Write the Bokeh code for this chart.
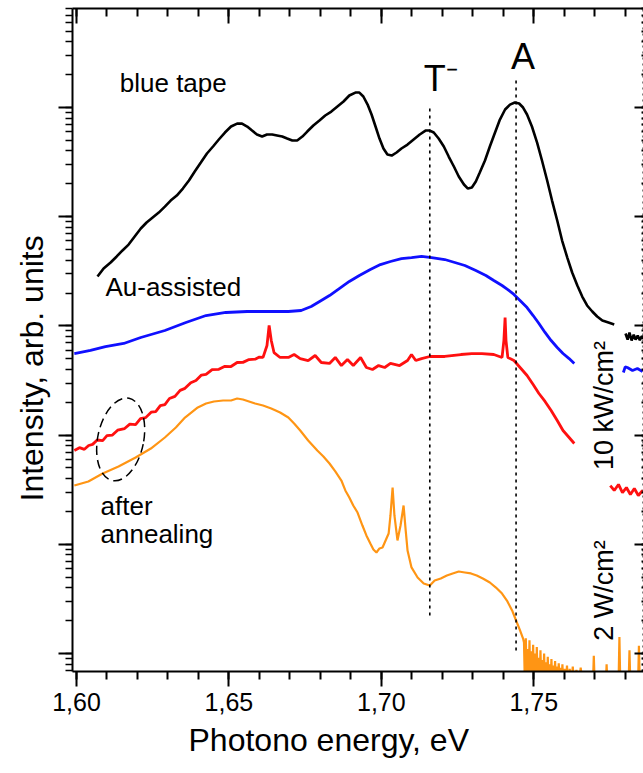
import math
from bokeh.plotting import figure
from bokeh.models import (Range1d, LinearAxis, LogAxis, FixedTicker, LogTicker,
                          Label, Title, CustomJSTickFormatter)
from bokeh.embed import file_html
from bokeh.resources import INLINE

FONT = "Liberation Sans"

# ---------------- data (photon energy in eV, log10 of intensity in arb. units) -------------
x_ticks = [1.60, 1.65, 1.70, 1.75]
x_tick_labels = ["1,60", "1,65", "1,70", "1,75"]
x_minor_ticks = [1.60, 1.61, 1.62, 1.63, 1.64, 1.65, 1.66, 1.67, 1.68, 1.69,
                 1.70, 1.71, 1.72, 1.73, 1.74, 1.75, 1.76, 1.77, 1.78]
x_title = "Photono energy, eV"
y_title = "Intensity, arb. units"

# blue tape (black curve)
blue_tape = [(1.6069,3.452),(1.6089,3.526),(1.6112,3.581),(1.6132,3.636),(1.6151,3.691),
    (1.6171,3.745),(1.6191,3.819),(1.6211,3.892),(1.6230,3.947),(1.6250,3.993),(1.6270,4.038),
    (1.6290,4.093),(1.6309,4.148),(1.6329,4.194),(1.6349,4.258),(1.6369,4.332),(1.6388,4.414),
    (1.6408,4.496),(1.6428,4.579),(1.6448,4.643),(1.6467,4.707),(1.6487,4.771),(1.6507,4.826),
    (1.6527,4.853),(1.6543,4.853),(1.6560,4.826),(1.6576,4.789),(1.6592,4.753),(1.6609,4.734),
    (1.6625,4.753),(1.6642,4.753),(1.6658,4.744),(1.6675,4.734),(1.6691,4.716),(1.6708,4.698),
    (1.6724,4.698),(1.6741,4.734),(1.6757,4.780),(1.6777,4.835),(1.6797,4.881),(1.6816,4.927),
    (1.6836,4.963),(1.6856,5.009),(1.6876,5.055),(1.6895,5.110),(1.6915,5.137),(1.6928,5.137),
    (1.6941,5.101),(1.6955,5.027),(1.6968,4.936),(1.6981,4.826),(1.6994,4.716),(1.7007,4.625),
    (1.7020,4.570),(1.7034,4.560),(1.7050,4.588),(1.7066,4.625),(1.7086,4.661),(1.7106,4.707),
    (1.7126,4.753),(1.7145,4.789),(1.7159,4.789),(1.7172,4.771),(1.7188,4.716),(1.7205,4.643),
    (1.7221,4.551),(1.7238,4.460),(1.7254,4.368),(1.7271,4.295),(1.7284,4.258),(1.7297,4.267),
    (1.7310,4.322),(1.7323,4.405),(1.7340,4.515),(1.7356,4.643),(1.7373,4.771),(1.7389,4.890),
    (1.7406,4.982),(1.7422,5.027),(1.7438,5.046),(1.7452,5.037),(1.7465,5.000),(1.7478,4.936),
    (1.7494,4.826),(1.7511,4.679),(1.7527,4.515),(1.7544,4.332),(1.7560,4.148),(1.7577,3.965),
    (1.7593,3.782),(1.7610,3.626),(1.7626,3.489),(1.7643,3.370),(1.7659,3.269),(1.7675,3.187),
    (1.7692,3.132),(1.7708,3.086),(1.7725,3.049),(1.7745,3.031),(1.7764,3.013)]
blue_tape_right = [(1.7801,2.930),(1.7808,2.875),(1.7814,2.940),(1.7821,2.866),(1.7828,2.920),
    (1.7834,2.875),(1.7841,2.912),(1.7848,2.870),(1.7854,2.905),(1.7861,2.885)]

# Au-assisted (blue curve)
au_assisted = [(1.5993,2.747),(1.6046,2.775),(1.6095,2.811),(1.6155,2.839),(1.6211,2.894),
    (1.6290,2.958),(1.6359,3.031),(1.6425,3.095),(1.6490,3.123),(1.6560,3.132),(1.6629,3.132),
    (1.6695,3.132),(1.6737,3.141),(1.6770,3.178),(1.6803,3.233),(1.6830,3.278),(1.6862,3.342),
    (1.6895,3.407),(1.6928,3.462),(1.6964,3.516),(1.6997,3.562),(1.7030,3.590),(1.7066,3.617),
    (1.7099,3.626),(1.7132,3.636),(1.7165,3.626),(1.7208,3.608),(1.7241,3.581),(1.7274,3.553),
    (1.7310,3.507),(1.7343,3.462),(1.7369,3.416),(1.7396,3.370),(1.7415,3.333),(1.7435,3.288),
    (1.7455,3.233),(1.7478,3.168),(1.7498,3.095),(1.7517,3.022),(1.7537,2.940),(1.7557,2.866),
    (1.7577,2.802),(1.7596,2.747),(1.7616,2.701),(1.7633,2.656)]
au_assisted_right = [(1.7794,2.573),(1.7800,2.625),(1.7807,2.619),(1.7824,2.592),
    (1.7840,2.610),(1.7857,2.582)]

# red curve
red_curve = [(1.5993,1.859),(1.6010,1.885),(1.6026,1.870),(1.6040,1.905),(1.6053,1.915),
    (1.6068,1.955),(1.6086,1.950),(1.6100,1.995),(1.6118,2.000),(1.6135,2.045),(1.6158,2.060),
    (1.6175,2.100),(1.6194,2.096),(1.6210,2.150),(1.6227,2.160),(1.6245,2.210),(1.6260,2.215),
    (1.6275,2.270),(1.6290,2.280),(1.6305,2.335),(1.6323,2.355),(1.6340,2.410),(1.6356,2.428),
    (1.6375,2.480),(1.6392,2.500),(1.6410,2.550),(1.6425,2.556),(1.6445,2.600),(1.6467,2.602),
    (1.6487,2.630),(1.6507,2.628),(1.6527,2.665),(1.6546,2.666),(1.6566,2.692),(1.6586,2.695),
    (1.6600,2.715),(1.6612,2.712),(1.6625,2.821),(1.6632,3.004),(1.6639,2.866),(1.6648,2.756),
    (1.6668,2.711),(1.6695,2.711),(1.6714,2.738),(1.6734,2.701),(1.6760,2.683),(1.6783,2.729),
    (1.6803,2.665),(1.6830,2.656),(1.6849,2.711),(1.6869,2.637),(1.6889,2.692),(1.6908,2.637),
    (1.6932,2.711),(1.6951,2.619),(1.6971,2.601),(1.6991,2.637),(1.7011,2.619),(1.7030,2.656),
    (1.7060,2.637),(1.7086,2.683),(1.7099,2.738),(1.7113,2.683),(1.7132,2.701),(1.7159,2.720),
    (1.7208,2.720),(1.7261,2.738),(1.7297,2.747),(1.7330,2.747),(1.7369,2.738),(1.7396,2.711),
    (1.7402,2.866),(1.7406,3.077),(1.7409,2.866),(1.7415,2.711),(1.7435,2.683),(1.7458,2.610),
    (1.7478,2.546),(1.7498,2.463),(1.7517,2.381),(1.7537,2.308),(1.7557,2.225),(1.7577,2.134),
    (1.7596,2.042),(1.7616,1.978),(1.7633,1.923)]
red_curve_right = [(1.7751,1.538),(1.7764,1.493),(1.7778,1.548),(1.7791,1.474),(1.7804,1.520),
    (1.7817,1.456),(1.7830,1.511),(1.7843,1.447),(1.7857,1.493)]

# after annealing (orange curve)
after_annealing = [(1.5993,1.538),(1.6039,1.575),(1.6086,1.648),(1.6138,1.712),(1.6194,1.795),
    (1.6244,1.877),(1.6290,1.978),(1.6326,2.070),(1.6356,2.161),(1.6398,2.253),(1.6425,2.289),
    (1.6451,2.308),(1.6481,2.317),(1.6507,2.317),(1.6527,2.335),(1.6546,2.326),(1.6566,2.308),
    (1.6586,2.289),(1.6612,2.271),(1.6639,2.244),(1.6668,2.207),(1.6695,2.161),(1.6714,2.106),
    (1.6734,2.042),(1.6760,1.951),(1.6790,1.859),(1.6810,1.804),(1.6830,1.740),(1.6849,1.667),
    (1.6869,1.584),(1.6882,1.493),(1.6895,1.429),(1.6908,1.355),(1.6922,1.291),(1.6938,1.172),
    (1.6951,1.081),(1.6964,1.007),(1.6974,0.952),(1.6984,0.925),(1.6994,0.962),(1.7004,0.971),
    (1.7014,1.035),(1.7024,1.099),(1.7030,1.264),(1.7037,1.520),(1.7043,1.264),(1.7053,1.035),
    (1.7063,1.172),(1.7073,1.355),(1.7080,1.126),(1.7086,0.943),(1.7099,0.788),(1.7119,0.696),
    (1.7139,0.641),(1.7159,0.623),(1.7175,0.668),(1.7195,0.687),(1.7215,0.714),(1.7234,0.733),
    (1.7254,0.751),(1.7274,0.742),(1.7294,0.733),(1.7313,0.714),(1.7333,0.687),(1.7356,0.650),
    (1.7376,0.604),(1.7396,0.549),(1.7412,0.485),(1.7429,0.394),(1.7442,0.302),(1.7455,0.211),
    (1.7465,0.137),(1.7468,0.10),(1.7471,-0.3),(1.7474,0.14),(1.7477,-0.3),(1.7480,0.04),
    (1.7483,-0.3),(1.7486,0.12),(1.7489,-0.3),(1.7492,0.02),(1.7495,-0.3),(1.7498,0.08),
    (1.7501,-0.3),(1.7504,0.00),(1.7507,-0.3),(1.7510,0.06),(1.7513,-0.3),(1.7516,-0.04),
    (1.7519,-0.3),(1.7522,0.03),(1.7525,-0.3),(1.7528,-0.06),(1.7531,-0.3),(1.7534,0.00),
    (1.7537,-0.3),(1.7540,-0.08),(1.7543,-0.3),(1.7546,-0.03),(1.7549,-0.3),(1.7552,-0.10),
    (1.7555,-0.3),(1.7558,-0.05),(1.7561,-0.3),(1.7564,-0.11),(1.7567,-0.3),(1.7570,-0.07),
    (1.7573,-0.3),(1.7576,-0.12),(1.7579,-0.3),(1.7582,-0.09),(1.7585,-0.3),(1.7588,-0.13),
    (1.7591,-0.3),(1.7594,-0.10),(1.7597,-0.3),(1.7601,-0.14),(1.7605,-0.3),(1.7609,-0.11),
    (1.7613,-0.3),(1.7618,-0.14),(1.7623,-0.3),(1.7628,-0.12),(1.7633,-0.3),(1.7640,-0.15),
    (1.7647,-0.3),(1.7654,-0.13),(1.7661,-0.3),(1.7694,-0.30),
    (1.7697,-0.020),(1.7700,-0.30),(1.7736,-0.30),(1.7739,-0.100),(1.7742,-0.30),(1.7778,-0.30),
    (1.7781,0.150),(1.7784,-0.30),(1.7811,-0.30),(1.7814,0.030),(1.7817,-0.30),(1.7842,-0.30),
    (1.7845,0.070),(1.7848,-0.30)]

# exciton lines: energies, labels, extent of the dotted markers (log10 intensity)
peak_energy = [1.7159, 1.7442]
peak_label = ["T\u207b", "A"]
peak_line_top = [4.991, 5.247]
peak_line_bottom = [0.321, 0.027]


def split(pairs):
    xs = [e for e, _ in pairs]
    ys = [10 ** v for _, v in pairs]
    return xs, ys


# ---------------- figure -------------
p = figure(width=643, height=773,
           x_range=Range1d(1.5987, 1.786), y_range=Range1d(0.684, 8.07e5),
           y_axis_type="log", output_backend="svg", toolbar_location=None,
           min_border_left=72, min_border_right=0, min_border_top=8, min_border_bottom=102)
p.outline_line_color = None
p.xgrid.visible = False
p.ygrid.visible = False
p.background_fill_color = "white"
p.border_fill_color = "white"

# bottom axis
xa = p.xaxis[0]
xa.ticker = FixedTicker(ticks=x_ticks, minor_ticks=x_minor_ticks)
xa.major_label_overrides = dict(zip(x_ticks, x_tick_labels))
xa.major_label_text_font = FONT
xa.major_label_text_font_size = "25px"
xa.major_label_text_color = "black"
xa.major_label_standoff = 6
xa.major_tick_in = 0
xa.major_tick_out = 15
xa.minor_tick_in = 0
xa.minor_tick_out = 8
xa.axis_line_width = 2
xa.major_tick_line_width = 2
xa.minor_tick_line_width = 2

# left axis
ya = p.yaxis[0]
ya.ticker = LogTicker(num_minor_ticks=10)
ya.formatter = CustomJSTickFormatter(code="return '';")
ya.major_label_text_font_size = "0px"
ya.major_label_standoff = 0
ya.major_tick_in = 0
ya.major_tick_out = 14
ya.minor_tick_in = 0
ya.minor_tick_out = 7
ya.axis_line_width = 2
ya.major_tick_line_width = 2
ya.minor_tick_line_width = 1.5

# top axis (ticks inside)
top = LinearAxis(ticker=FixedTicker(ticks=x_ticks, minor_ticks=x_minor_ticks),
                 formatter=CustomJSTickFormatter(code="return '';"),
                 major_label_text_font_size="0px", major_label_standoff=0,
                 major_tick_in=15, major_tick_out=0, minor_tick_in=8, minor_tick_out=0,
                 axis_line_width=2, major_tick_line_width=2, minor_tick_line_width=2)
p.add_layout(top, "above")

# right axis (dotted, ticks inside)
right = LogAxis(ticker=LogTicker(num_minor_ticks=10),
                formatter=CustomJSTickFormatter(code="return '';"),
                major_label_text_font_size="0px", major_label_standoff=0,
                major_tick_in=9, major_tick_out=0, minor_tick_in=2, minor_tick_out=0,
                axis_line_width=2, axis_line_dash="2 4",
                major_tick_line_width=2, minor_tick_line_width=2)
p.add_layout(right, "right")

# axis titles (as side titles so that they can be positioned like the original)
p.add_layout(Title(text=x_title, align="left", offset=116, vertical_align="bottom",
                   standoff=13, text_font=FONT, text_font_size="32px",
                   text_font_style="normal", text_color="black"), "below")
p.add_layout(Title(text=y_title, align="left", offset=170, vertical_align="bottom",
                   standoff=18, text_font=FONT, text_font_size="32px",
                   text_font_style="normal", text_color="black"), "left")

# curves
for pairs, color, lw in [(blue_tape, "black", 2.6), (blue_tape_right, "black", 2.6),
                         (au_assisted, "#1010ff", 2.8), (au_assisted_right, "#1010ff", 2.8),
                         (red_curve, "#ff1010", 2.8), (red_curve_right, "#ff1010", 2.8),
                         (after_annealing, "#ff9514", 2.2)]:
    xs, ys = split(pairs)
    p.line(xs, ys, line_color=color, line_width=lw)

# dotted exciton markers
p.segment(x0=peak_energy, x1=peak_energy,
          y0=[10 ** v for v in peak_line_top], y1=[10 ** v for v in peak_line_bottom],
          line_color="black", line_width=1.6, line_dash="3 4")

# dashed ellipse
p.ellipse(x=[1.6145], y=[10 ** 1.96], width=46, height=84,
          width_units="screen", height_units="screen", angle=-0.2,
          fill_color=None, line_color="black", line_width=1.5, line_dash="9 5")


def lab(x, y, text, size, align="left", baseline="alphabetic", angle=0.0):
    p.add_layout(Label(x=x, y=y, text=text, text_font=FONT, text_font_size=size,
                       text_align=align, text_baseline=baseline, angle=angle,
                       text_color="black"))


lab(1.6142, 10 ** 5.229, "blue tape", "26px")
lab(1.6095, 10 ** 3.360, "Au-assisted", "26px")
lab(1.6079, 10 ** 1.350, "after", "26px")
lab(1.6079, 10 ** 1.094, "annealing", "26px")
lab(1.7139, 10 ** 5.266, peak_label[0], "36px")
lab(1.7465, 10 ** 5.467, peak_label[1], "36px", align="center")
lab(1.7731, 10 ** 2.271, "10 kW/cm\u00b2", "27px", align="center", baseline="middle",
    angle=math.pi / 2)
lab(1.7731, 10 ** 0.577, "2 W/cm\u00b2", "27px", align="center", baseline="middle",
    angle=math.pi / 2)

open("out.html", "w").write(file_html(p, INLINE))
